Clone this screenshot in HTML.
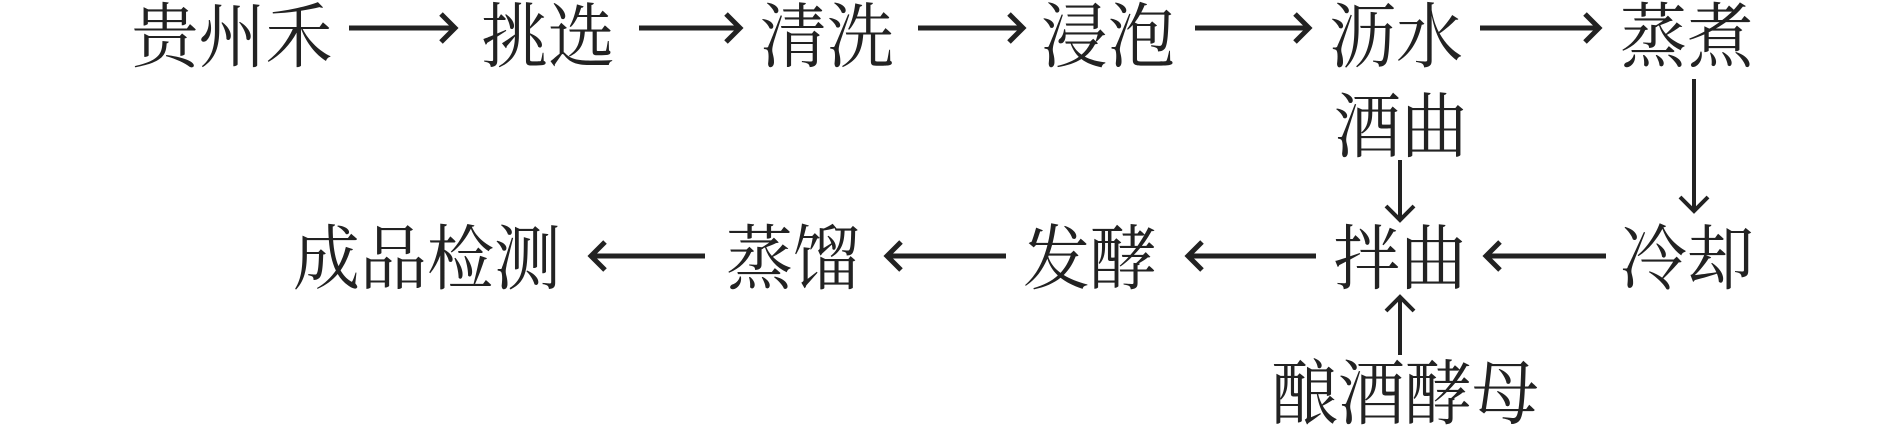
<!DOCTYPE html>
<html><head><meta charset="utf-8"><style>
html,body{margin:0;padding:0;background:#fff;}
svg{display:block;}
text{font-family:"Liberation Serif","Noto Serif CJK SC",serif;font-size:67px;fill:#222;text-anchor:middle;}
</style></head><body>
<svg width="1890" height="434" viewBox="0 0 1890 434" xmlns="http://www.w3.org/2000/svg">
<g>
<text transform="translate(232,35) scale(1,1.06)" y="25">贵州禾</text>
<text transform="translate(548,35) scale(1,1.06)" y="25">挑选</text>
<text transform="translate(827,35) scale(1,1.06)" y="25">清洗</text>
<text transform="translate(1108,35) scale(1,1.06)" y="25">浸泡</text>
<text transform="translate(1396,35) scale(1,1.06)" y="25">沥水</text>
<text transform="translate(1687,35) scale(1,1.06)" y="25">蒸煮</text>
<text transform="translate(1401,125) scale(1,1.06)" y="25">酒曲</text>
<text transform="translate(427,257) scale(1,1.06)" y="25">成品检测</text>
<text transform="translate(793,257) scale(1,1.06)" y="25">蒸馏</text>
<text transform="translate(1090,257) scale(1,1.06)" y="25">发酵</text>
<text transform="translate(1400,257) scale(1,1.06)" y="25">拌曲</text>
<text transform="translate(1687,257) scale(1,1.06)" y="25">冷却</text>
<text transform="translate(1405,392) scale(1,1.06)" y="25">酿酒酵母</text>
</g>
<g stroke="#222" stroke-width="5" fill="none">
<path d="M349 28H454M441 14L455 28L441 42"/>
<path d="M639 28H739M726 14L740 28L726 42"/>
<path d="M918 28H1022M1009 14L1023 28L1009 42"/>
<path d="M1195 28H1308M1295 14L1309 28L1295 42"/>
<path d="M1480 28H1598M1585 14L1599 28L1585 42"/>
<path d="M705 256H592M605 242L591 256L605 270"/>
<path d="M1006 256H888M901 242L887 256L901 270"/>
<path d="M1316 256H1189M1202 242L1188 256L1202 270"/>
<path d="M1606 256H1487M1500 242L1486 256L1500 270"/>
</g>
<g stroke="#222" stroke-width="4" fill="none">
<path d="M1694 79V210M1680 197L1694 211L1708 197"/>
<path d="M1400 160V219M1386 206L1400 220L1414 206"/>
<path d="M1400 355V298M1386 311L1400 297L1414 311"/>
</g>
</svg>
</body></html>
